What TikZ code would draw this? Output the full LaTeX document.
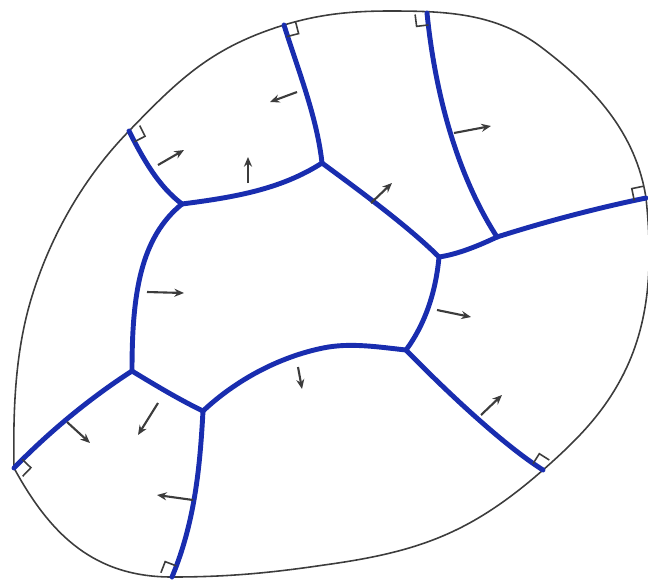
\documentclass[tikz,border=0pt]{standalone}
\usetikzlibrary{arrows.meta}
\definecolor{pen}{RGB}{25,45,175}
\definecolor{ink}{RGB}{60,60,60}
\tikzset{
 wall/.style={draw=ink, line width=0.9pt},
 net/.style={draw=pen, line width=2.8pt, line cap=round, line join=round},
 flow/.style={draw=ink, line width=1.2pt, -{Stealth[length=5.5pt,width=4.6pt]}},
 rightmark/.style={draw=ink, line width=0.9pt},
}
\begin{document}
\begin{tikzpicture}[x=0.02cm,y=-0.02cm]
\useasboundingbox (0,0) rectangle (648,585);
% boundary points
\coordinate (B1) at (129,131);
\coordinate (B2) at (284,25);
\coordinate (B3) at (427,13);
\coordinate (B4) at (646,198);
\coordinate (B5) at (543,470);
\coordinate (B6) at (172,577);
\coordinate (B7) at (14,468);
% junctions
\coordinate (J1) at (182,204);
\coordinate (J2) at (322,163);
\coordinate (J3) at (497,237);
\coordinate (J4) at (439,257);
\coordinate (J5) at (406,350);
\coordinate (J6) at (132,371);
\coordinate (J7) at (203,411);
\coordinate (M) at (323,348);
% outline
\draw[wall] (B7) .. controls (13,409) and (15,349) .. (33,293)
  .. controls (52,233) and (85,176) .. (B1)
  .. controls (181,77) and (213,47) .. (B2)
  .. controls (320,14) and (352,11) .. (390,11)
  .. controls (446,11) and (496,13) .. (541,47)
  .. controls (594,87) and (636,133) .. (B4)
  .. controls (652,256) and (652,317) .. (624,373)
  .. controls (604,413) and (577,440) .. (B5)
  .. controls (471,533) and (419,552) .. (324,565)
  .. controls (270,573) and (227,577) .. (B6)
  .. controls (95,577) and (51,536) .. (B7) -- cycle;
% network
\draw[net] (B1) .. controls (142.5,157.7) and (158,186) .. (J1);
\draw[net] (J1) .. controls (232,197.5) and (280,190) .. (J2);
\draw[net] (B2) .. controls (298,70) and (317,117) .. (J2);
\draw[net] (J2) .. controls (360,191) and (409,227) .. (J4);
\draw[net] (J4) .. controls (459,254) and (480,245) .. (J3);
\draw[net] (B3) .. controls (435,93) and (457,175) .. (J3);
\draw[net] (J3) .. controls (544,222) and (597,208) .. (B4);
\draw[net] (J4) .. controls (436,290) and (426,323) .. (J5);
\draw[net] (J5) .. controls (441,386) and (501,443.5) .. (B5);
\draw[net] (J5) .. controls (378,347) and (350,342.4) .. (M)
  .. controls (279,357) and (236,380) .. (J7);
\draw[net] (J7) .. controls (180,400) and (155,385) .. (J6);
\draw[net] (J6) .. controls (132,295) and (140,238) .. (J1);
\draw[net] (J6) .. controls (90,398) and (49,432) .. (B7);
\draw[net] (J7) .. controls (200,466) and (195,522) .. (B6);
% right-angle marks
\draw[rightmark] (B1) ++(5.4,10.7) -- ++(10.7,-5.4) -- ++(-5.4,-10.7);
\draw[rightmark] (B2) ++(3,11.6) -- ++(11.6,-3) -- ++(-3,-11.6);
\draw[rightmark] (B3) ++(1.5,11.9) -- ++(-11.9,1.5) -- ++(-1.5,-11.9);
\draw[rightmark] (B4) ++(-11.8,2.4) -- ++(-2.4,-11.8) -- ++(11.8,-2.4);
\draw[rightmark] (B5) ++(-10,-6.3) -- ++(6.3,-10) -- ++(10,6.3);
\draw[rightmark] (B6) ++(4.3,-11.1) -- ++(-11.1,-4.3) -- ++(-4.3,11.1);
\draw[rightmark] (B7) ++(8.3,-8.6) -- ++(8.6,8.3) -- ++(-8.3,8.6);
% flow arrows
\draw[flow] (297,92) -- (270,102);
\draw[flow] (158,165) -- (184,150);
\draw[flow] (248,183) -- (248,157);
\draw[flow] (147,292) -- (184,293);
\draw[flow] (454,133) -- (491,126);
\draw[flow] (371,203) -- (392,183);
\draw[flow] (437,310) -- (471,317);
\draw[flow] (481,415) -- (502,395);
\draw[flow] (298,367) -- (302,389);
\draw[flow] (67,422) -- (90,443);
\draw[flow] (158,403) -- (138,435);
\draw[flow] (193,500) -- (157,495);
\end{tikzpicture}
\end{document}
